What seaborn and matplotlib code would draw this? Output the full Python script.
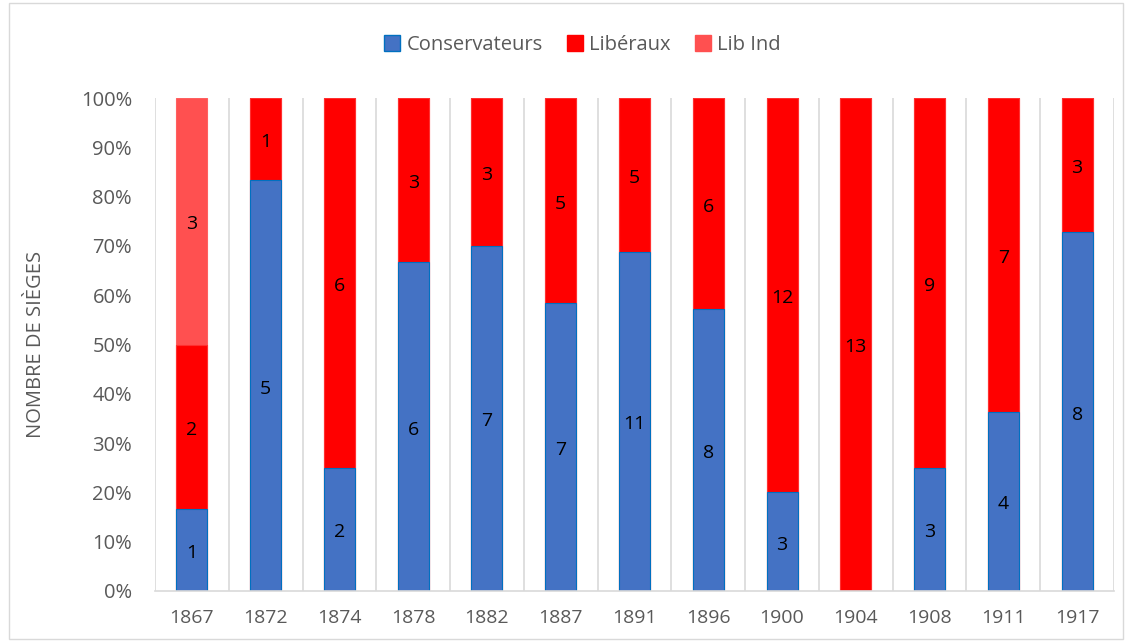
import matplotlib
matplotlib.use("Agg")
import matplotlib.pyplot as plt
import seaborn as sns
import numpy as np
import pandas as pd
from matplotlib.patches import Patch

years = ["1867", "1872", "1874", "1878", "1882", "1887", "1891", "1896", "1900", "1904", "1908", "1911", "1917"]
conservateurs = [1, 5, 2, 6, 7, 7, 11, 8, 3, 0, 3, 4, 8]
liberaux = [2, 1, 6, 3, 3, 5, 5, 6, 12, 13, 9, 7, 3]
lib_ind = [3, 0, 0, 0, 0, 0, 0, 0, 0, 0, 0, 0, 0]

sns.set_theme(style="white")
plt.rcParams["font.family"] = ["Open Sans", "DejaVu Sans"]

c = np.array(conservateurs, float)
l = np.array(liberaux, float)
i = np.array(lib_ind, float)
tot = c + l + i
pc, pl, pi = c / tot * 100, l / tot * 100, i / tot * 100

df = pd.DataFrame({"year": years, "top3": pc + pl + pi, "top2": pc + pl, "top1": pc})

fig = plt.figure(figsize=(11.32, 6.42), dpi=100)
ax = fig.add_axes([155 / 1132, 1 - 591 / 642, (1114 - 155) / 1132, (591 - 98) / 642])

col_c, col_l, col_i = "#4472C4", "#FF0000", "#FF5050"
w = 0.42
sns.barplot(data=df, x="year", y="top3", color=col_i, width=w, ax=ax, saturation=1,
            edgecolor="#FF6060", linewidth=0.8)
sns.barplot(data=df, x="year", y="top2", color=col_l, width=w, ax=ax, saturation=1,
            edgecolor="#FF3030", linewidth=0.8)
sns.barplot(data=df, x="year", y="top1", color=col_c, width=w, ax=ax, saturation=1,
            edgecolor="#0070C0", linewidth=0.8)

for k in range(len(years)):
    segs = [(c[k], 0, pc[k]), (l[k], pc[k], pc[k] + pl[k]), (i[k], pc[k] + pl[k], 100)]
    for v, lo, hi in segs:
        if v > 0:
            ax.text(k, (lo + hi) / 2 - 0.6, f"{int(v)}", ha="center", va="center",
                    fontsize=14, color="black")

ax.set_xlim(-0.5, len(years) - 0.5)
ax.set_ylim(0, 100)
ax.set_yticks(np.arange(0, 101, 10))
ax.set_yticklabels([f"{t}%" for t in range(0, 101, 10)])
ax.set_xticks(np.arange(len(years)))
ax.set_xticklabels(years)
ax.set_xticks(np.arange(-0.5, len(years), 1), minor=True)
ax.grid(False)
ax.grid(True, which="minor", axis="x", color="#D9D9D9", linewidth=1.2)
ax.tick_params(axis="both", which="both", length=0)
ax.tick_params(axis="y", labelsize=14.5, labelcolor="#595959", pad=16.5)
ax.tick_params(axis="x", labelsize=14, labelcolor="#595959", pad=13)
for s in ["left", "top", "right"]:
    ax.spines[s].set_visible(False)
ax.spines["bottom"].set_color("#D9D9D9")
ax.spines["bottom"].set_linewidth(1.2)
ax.set_xlabel("")
ax.set_ylabel("NOMBRE DE SIÈGES", fontsize=14.5, color="#595959", labelpad=25)

handles = [Patch(facecolor=col_c, edgecolor="#0070C0", label="Conservateurs"),
           Patch(facecolor=col_l, edgecolor=col_l, label="Libéraux"),
           Patch(facecolor=col_i, edgecolor=col_i, label="Lib Ind")]
fig.legend(handles=handles, loc="center", bbox_to_anchor=(0.5145, 1 - 45 / 642), ncol=3,
           frameon=False, fontsize=14.5, labelcolor="#595959", handlelength=0.8,
           handleheight=0.8, handletextpad=0.3, columnspacing=1.2)

border = plt.Rectangle((0.008, 0.005), 0.984, 0.99, transform=fig.transFigure,
                       fill=False, edgecolor="#D9D9D9", linewidth=1)
fig.patches.append(border)

fig.savefig("out.png", dpi=100)
